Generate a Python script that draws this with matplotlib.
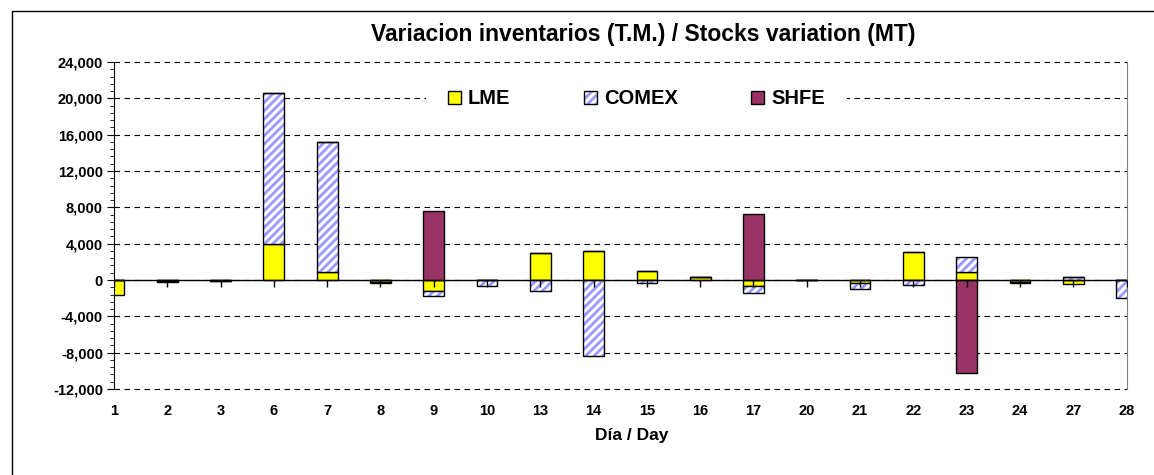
import numpy as np
import matplotlib.pyplot as plt
from matplotlib.patches import Rectangle, Patch
from matplotlib.ticker import FuncFormatter, MultipleLocator

plt.rcParams['font.family'] = ['Liberation Sans', 'DejaVu Sans']
plt.rcParams['font.weight'] = 'bold'
plt.rcParams['hatch.linewidth'] = 2.0

# datos (T.M.)
dias = ['1', '2', '3', '6', '7', '8', '9', '10', '13', '14',
        '15', '16', '17', '20', '21', '22', '23', '24', '27', '28']
lme = np.array([-1600, -100, -100, 4000, 900, -200, -1200, 0, 3000, 3200,
                950, 300, -700, 0, -350, 3100, 850, -200, -450, 0])
comex = np.array([0, -100, -50, 16600, 14300, -100, -600, -700, -1200, -8400,
                  -300, 0, -750, 0, -650, -500, 1700, -100, 300, -2000])
shfe = np.array([0, 0, 0, 0, 0, 0, 7600, 0, 0, 0,
                 0, 0, 7300, 0, 0, 0, -10200, 0, 0, 0])

c_lme = '#FFFF00'
c_comex = '#9999FF'
c_shfe = '#993366'

fig = plt.figure(figsize=(11.54, 4.75), dpi=100)
ax = fig.add_axes([114/1154, 1-389/475, (1126.5-114)/1154, (389-62)/475])

x = np.arange(len(dias))
w = 0.39
pos = np.zeros(len(dias))
neg = np.zeros(len(dias))

def stack(vals):
    global pos, neg
    b = np.where(vals >= 0, pos, neg)
    pos = pos + np.where(vals >= 0, vals, 0)
    neg = neg + np.where(vals < 0, vals, 0)
    return b

b = stack(lme)
ax.bar(x, lme, w, bottom=b, color=c_lme, edgecolor='black', linewidth=1, zorder=2)
b = stack(comex)
ax.bar(x, comex, w, bottom=b, color='white', edgecolor=c_comex, hatch='////', linewidth=0, zorder=2)
ax.bar(x, comex, w, bottom=b, fill=False, edgecolor='black', linewidth=1, zorder=2)
b = stack(shfe)
ax.bar(x, shfe, w, bottom=b, color=c_shfe, edgecolor='black', linewidth=1, zorder=2)

ax.axhline(0, color='black', lw=1, zorder=3)
ax.plot(x, np.zeros(len(x)), ls='', marker=3, ms=5, mew=1, color='black', zorder=3)

ax.set_xlim(0, len(dias)-1)
ax.set_ylim(-12000, 24000)
ax.set_xticks(x)
ax.set_xticklabels(dias, fontsize=10.5, fontweight='bold')
ax.tick_params(axis='x', length=0, pad=11)
ax.yaxis.set_major_locator(MultipleLocator(4000))
ax.yaxis.set_minor_locator(MultipleLocator(800))
ax.yaxis.set_major_formatter(FuncFormatter(lambda v, p: '{:,.0f}'.format(v)))
ax.tick_params(axis='y', which='major', length=5, labelsize=10.5, pad=3)
ax.tick_params(axis='y', which='minor', length=3)
for t in ax.get_yticklabels():
    t.set_fontweight('bold')

ax.grid(axis='y', color='black', ls=(0, (5, 4)), lw=0.8)
for gl in ax.get_ygridlines():
    gl.set_clip_on(False)
ax.set_axisbelow(True)
ax.spines['top'].set_visible(False)
ax.spines['bottom'].set_visible(False)
ax.spines['right'].set_color('#808080')
ax.spines['left'].set_color('black')

ax.set_xlabel('Día / Day', fontsize=12.5, fontweight='bold')
ax.xaxis.set_label_coords(0.511, -0.12)
fig.text(643/1154, 1-35/475, 'Variacion inventarios (T.M.) / Stocks variation (MT)',
         ha='center', va='center', fontsize=16.5, fontweight='bold')

h_lme = Patch(facecolor=c_lme, edgecolor='black', lw=1)
h_comex = (Patch(facecolor='white', edgecolor=c_comex, hatch='////', lw=0),
           Patch(fill=False, edgecolor='black', lw=1))
h_shfe = Patch(facecolor=c_shfe, edgecolor='black', lw=1)
leg = ax.legend([h_lme, h_comex, h_shfe], ['LME', 'COMEX', 'SHFE'], ncol=3,
                loc='center', bbox_to_anchor=(0.516, 0.887), frameon=True,
                fancybox=False, edgecolor='none', facecolor='white', framealpha=1,
                prop={'weight': 'bold', 'size': 14.5}, handlelength=0.65, handleheight=0.65,
                handletextpad=0.35, columnspacing=3.65, borderpad=1.1)
leg.set_zorder(4)

# borde exterior
fig.patches.append(Rectangle((12/1154, -0.1), 1.2, 1-11/475+0.1, transform=fig.transFigure,
                             fill=False, edgecolor='black', lw=1))

fig.savefig('out.png', dpi=100)
